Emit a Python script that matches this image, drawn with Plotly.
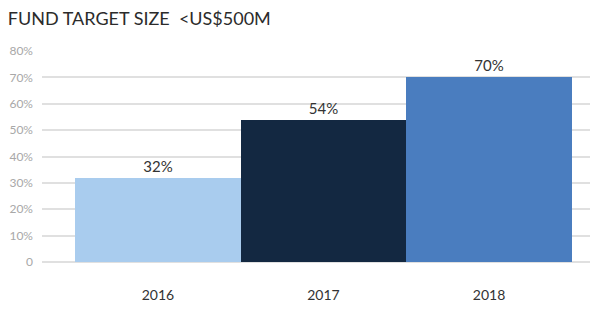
import plotly.graph_objects as go

categories = ["2016", "2017", "2018"]
values = [32, 54, 70]
labels = ["32%", "54%", "70%"]
colors = ["#A9CCEE", "#132841", "#4A7DBF"]
y_tickvals = [0, 10, 20, 30, 40, 50, 60, 70, 80]
y_ticktext = ["0", "10%", "20%", "30%", "40%", "50%", "60%", "70%", "80%"]

fig = go.Figure(go.Bar(
    x=[0, 1, 2], y=values, marker=dict(color=colors, line=dict(width=0)),
    text=labels, textposition="outside", cliponaxis=False,
    textfont=dict(family="Lato", size=15, color="#333333"),
))

fig.update_layout(
    width=599, height=313,
    margin=dict(l=38, r=9, t=51, b=51),
    paper_bgcolor="white", plot_bgcolor="white",
    bargap=0, showlegend=False,
    title=dict(text="FUND TARGET SIZE  &lt;US$500M", x=0.013, xanchor="left", y=0.94, yanchor="middle",
               font=dict(family="Lato", size=18, color="#2b2b2b")),
)
fig.update_xaxes(range=[-0.70, 2.61], tickvals=[0, 1, 2], ticktext=categories,
                 showgrid=False, zeroline=False, showline=False, ticks="",
                 tickfont=dict(family="Lato", size=14, color="#333333"), ticklabelstandoff=23)
fig.update_yaxes(range=[0, 80], tickvals=y_tickvals, ticktext=y_ticktext,
                 showgrid=True, gridcolor="#e0e0e0", gridwidth=1.5,
                 zeroline=True, zerolinecolor="#e0e0e0", zerolinewidth=1.5,
                 showline=False, ticks="",
                 tickfont=dict(family="Lato", size=12, color="#a8a8a8"), ticklabelstandoff=8)

fig.write_html("out.html")
